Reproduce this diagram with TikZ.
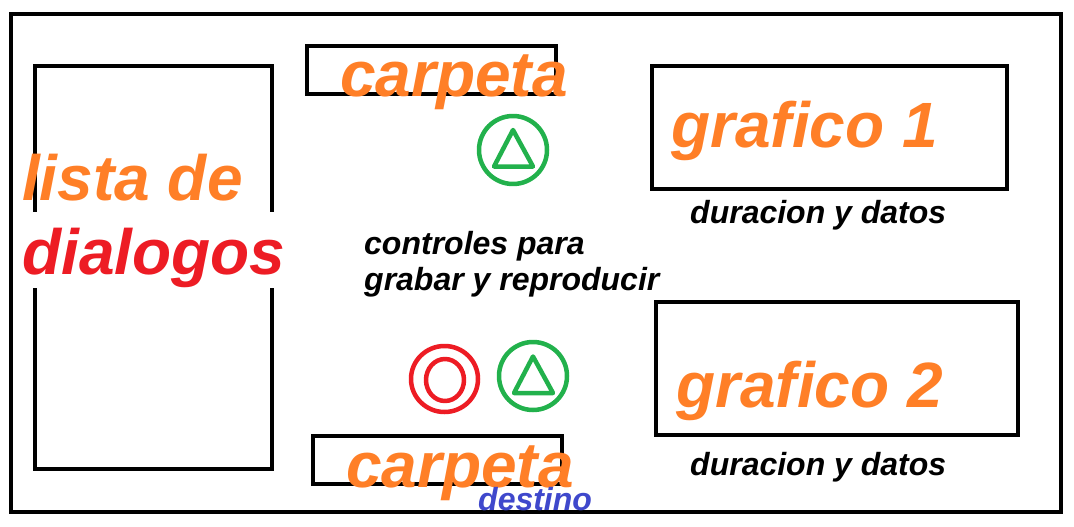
\documentclass[tikz,border=0pt]{standalone}
\usepackage{fontspec}
\setmainfont{Liberation Sans}
\definecolor{org}{RGB}{255,127,39}
\definecolor{redc}{RGB}{237,28,36}
\definecolor{grn}{RGB}{34,177,76}
\definecolor{blu}{RGB}{63,72,204}
\tikzset{x=1pt,y=-1pt,
box/.style={draw=black,line width=4.6pt,fill=none},
bigtext/.style={font=\bfseries\itshape\fontsize{64}{64}\selectfont,text=org,inner sep=0pt,anchor=base west},
captext/.style={font=\bfseries\itshape\fontsize{32}{32}\selectfont,text=black,inner sep=0pt,anchor=base west},
ring/.style={line width=4.5pt,fill=none,line join=round}}
\begin{document}
\begin{tikzpicture}
\useasboundingbox (0,0) rectangle (1074,527);
\fill[white] (0,0) rectangle (1074,527);
\draw[box] (11,14) rectangle (1061,512);
\draw[box] (35,66) rectangle (272,469);
\draw[box] (307,46) rectangle (556,94);
\draw[box] (652,66) rectangle (1007,189);
\draw[box] (656,302) rectangle (1018,435);
\draw[box] (313,436) rectangle (562,484);
\fill[white] (268,212) rectangle (276,288);
\fill[white] (31,212) rectangle (39,288);
\node[bigtext] (c1) at (340,96) {carpeta};
\node[bigtext] (g1) at (671,147) {grafico 1};
\node[bigtext] (l1) at (22,200) {lista de};
\node[bigtext,text=redc] (l2) at (22,274) {dialogos};
\node[bigtext] (g2) at (676,407) {grafico 2};
\node[bigtext] (c2) at (346,487) {carpeta};
\node[captext] (d1) at (690,223) {duracion y datos};
\node[captext] (d2) at (690,475) {duracion y datos};
\node[captext] (t1) at (364,254) {controles para};
\node[captext] (t2) at (364,290) {grabar y reproducir};
\node[captext,text=blu] (dst) at (478,510) {destino};
\draw[ring,draw=grn] (513,150) circle (34);
\draw[ring,draw=grn] (513,130) -- (494,166.5) -- (533,166.5) -- cycle;
\draw[ring,draw=redc] (444.5,379) ellipse (33.5 and 33);
\draw[ring,draw=redc] (445,380) ellipse (19 and 21);
\draw[ring,draw=grn] (533,376) circle (34);
\draw[ring,draw=grn] (533,356.5) -- (514,393) -- (553,393) -- cycle;
\end{tikzpicture}
\end{document}
